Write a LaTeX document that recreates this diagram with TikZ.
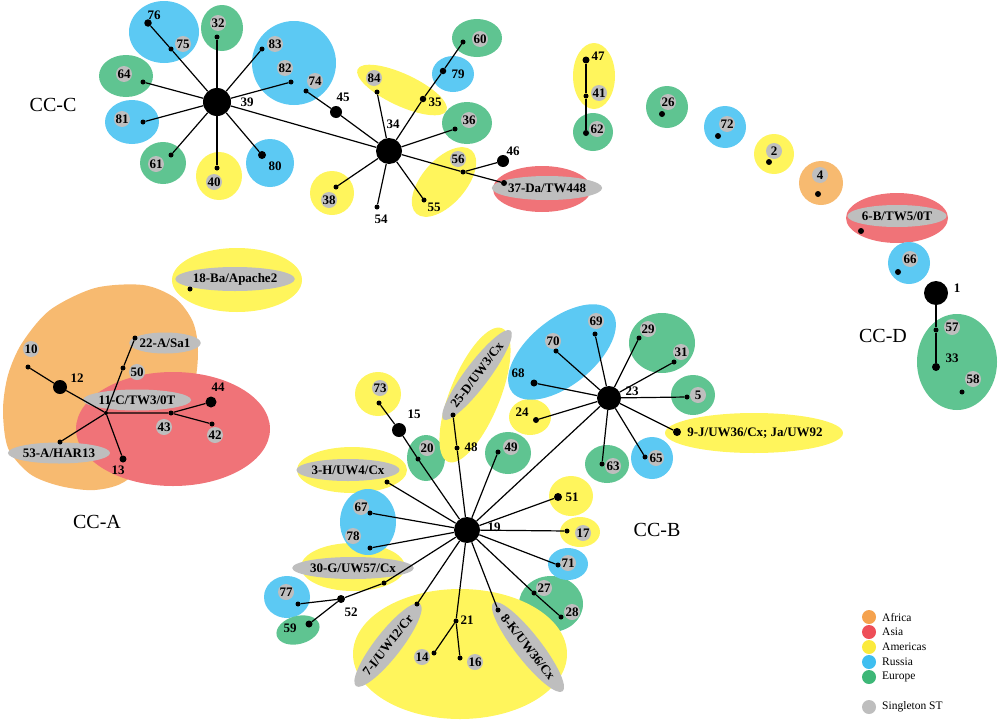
\documentclass[tikz,border=0pt]{standalone}
\usepackage{fontspec}
\setmainfont{Liberation Serif}
\usetikzlibrary{shapes.geometric}
\definecolor{cOr}{HTML}{F7BA70}
\definecolor{cRe}{HTML}{F07378}
\definecolor{cYe}{HTML}{FFF55C}
\definecolor{cBl}{HTML}{5CC9F3}
\definecolor{cGn}{HTML}{5FC491}
\definecolor{cGr}{HTML}{BEBEBE}
\definecolor{kOr}{HTML}{F5A24E}
\definecolor{kRe}{HTML}{EE4E58}
\definecolor{kYe}{HTML}{FBEA3C}
\definecolor{kBl}{HTML}{3FBEF0}
\definecolor{kGn}{HTML}{3DB777}
\newcommand\mylabfont{\fontsize{13}{15}\bfseries\selectfont}
\tikzset{
  conn/.style={line width=1.2pt, black},
  sdot/.style={circle, fill=black, inner sep=0pt, minimum size=5pt},
  mdot/.style={circle, fill=black, inner sep=0pt, minimum size=7.5pt},
  bdot/.style={circle, fill=black, inner sep=0pt, minimum size=13pt},
  hubn/.style={circle, fill=black, inner sep=0pt, minimum size=26pt},
  glab/.style={circle, fill=cGr, inner sep=0pt, minimum size=16pt, font=\mylabfont},
  tlab/.style={inner sep=0pt, font=\mylabfont},
  elab/.style={ellipse, fill=cGr, inner sep=0pt, font=\mylabfont},
  cclab/.style={inner sep=0pt, font=\fontsize{20}{24}\selectfont},
  leg/.style={inner sep=0pt, anchor=west, font=\fontsize{11.5}{13}\selectfont},
}
\begin{document}
\begin{tikzpicture}[x=1pt,y=-1pt]
\useasboundingbox (0,0) rectangle (1000,720);
% ---------- regions ----------
% CC-A
\fill[cOr] plot[smooth cycle] coordinates {(143,285) (175,298) (193,322) (198,352) (192,390) (160,440) (127,480) (95,490) (60,486) (30,474) (8,448) (3,410) (8,375) (22,343) (50,310) (95,288)};
\fill[cRe] (173,429) ellipse [x radius=97pt, y radius=57pt];
\fill[cYe] (237,280) ellipse [x radius=65pt, y radius=32pt];
% CC-C
\fill[cBl] (164,32) ellipse [x radius=35pt, y radius=31pt];
\fill[cGn] (222,28) ellipse [x radius=21pt, y radius=23pt];
\fill[cGn] (126,76) ellipse [x radius=27pt, y radius=21pt];
\fill[cBl] (132,122) ellipse [x radius=27pt, y radius=22pt];
\fill[cGn] (163,163) ellipse [x radius=23pt, y radius=21pt];
\fill[cYe] (219,176) ellipse [x radius=23pt, y radius=24pt];
\fill[cBl] (270,163) ellipse [x radius=24pt, y radius=24pt];
\fill[cBl] (294,63) ellipse [x radius=42pt, y radius=42pt];
\fill[cYe, rotate around={-25:(402,90)}] (402,90) ellipse [x radius=49pt, y radius=16pt];
\fill[cBl] (453,74) ellipse [x radius=21pt, y radius=18pt];
\fill[cGn] (477,38) ellipse [x radius=25pt, y radius=19pt];
\fill[cGn] (467,123) ellipse [x radius=25pt, y radius=21pt];
\fill[cYe, rotate around={49:(444,182)}] (444,182) ellipse [x radius=42pt, y radius=22pt];
\fill[cRe] (542,189) ellipse [x radius=49pt, y radius=23pt];
\fill[cYe] (332,193) ellipse [x radius=22pt, y radius=22pt];
% 47-41-62
\fill[cYe] (594,76) ellipse [x radius=21pt, y radius=33pt];
\fill[cGn] (593,132) ellipse [x radius=20pt, y radius=19pt];
% singletons and CC-D
\fill[cGn] (667,107) ellipse [x radius=21pt, y radius=21pt];
\fill[cBl] (725,127) ellipse [x radius=21pt, y radius=21pt];
\fill[cYe] (774,154) ellipse [x radius=20pt, y radius=20pt];
\fill[cOr] (821,183) ellipse [x radius=22pt, y radius=22pt];
\fill[cRe] (897,218) ellipse [x radius=51pt, y radius=25pt];
\fill[cBl] (909,263) ellipse [x radius=21pt, y radius=21pt];
\fill[cGn] (957,362) ellipse [x radius=40pt, y radius=48pt];
% CC-B
\fill[cGn] (551,604) ellipse [x radius=32pt, y radius=28pt];
\fill[cYe] (460,654) ellipse [x radius=107pt, y radius=65pt];
\fill[cYe] (352,470) ellipse [x radius=55pt, y radius=23pt];
\fill[cYe] (353,567) ellipse [x radius=52pt, y radius=24pt];
\fill[cBl] (368,522) ellipse [x radius=28pt, y radius=33pt];
\fill[cBl] (287,597) ellipse [x radius=23pt, y radius=21pt];
\fill[cGn, rotate around={15:(298,630)}] (298,630) ellipse [x radius=22pt, y radius=14pt];
\fill[cYe] (378,394) ellipse [x radius=23pt, y radius=22pt];
\fill[cGn] (426,458) ellipse [x radius=19pt, y radius=23pt];
\fill[cYe, rotate around={68:(475,395)}] (475,395) ellipse [x radius=72pt, y radius=25pt];
\fill[cGn] (508,453) ellipse [x radius=23pt, y radius=21pt];
\fill[cYe] (530,417) ellipse [x radius=21pt, y radius=18pt];
\fill[cBl, rotate around={39:(562,352)}] (562,352) ellipse [x radius=64pt, y radius=33pt];
\fill[cGn] (662,343) ellipse [x radius=33pt, y radius=30pt];
\fill[cGn] (693,395) ellipse [x radius=22pt, y radius=20pt];
\fill[cYe] (754,433) ellipse [x radius=89pt, y radius=20pt];
\fill[cGn] (607,464) ellipse [x radius=22pt, y radius=19pt];
\fill[cBl] (652,458) ellipse [x radius=21pt, y radius=21pt];
\fill[cYe] (571,496) ellipse [x radius=22pt, y radius=20pt];
\fill[cYe] (580,532) ellipse [x radius=20pt, y radius=15pt];
\fill[cBl] (568,564) ellipse [x radius=20pt, y radius=16pt];

% ---------- grey labels (singleton STs) ----------
% CC-C
\node[glab] (l75) at (183,44) {75};
\node[glab] (l32) at (218,23) {32};
\node[glab] (l64) at (124,74) {64};
\node[glab] (l81) at (122,119) {81};
\node[glab] (l61) at (156,164) {61};
\node[glab] (l40) at (214,182) {40};
\node[glab] (l83) at (275,44) {83};
\node[glab] (l82) at (285,68) {82};
\node[glab] (l74) at (315,81) {74};
\node[glab] (l84) at (374,78) {84};
\node[glab] (l60) at (480,39) {60};
\node[glab] (l36) at (469,120) {36};
\node[glab] (l56) at (458,159) {56};
\node[glab] (l38) at (329,200) {38};
\node[elab, minimum width=88pt, minimum height=24pt] (l37) at (547,188) {37-Da/TW448};
\node[glab] (l41) at (599,93) {41};
\node[glab] (l62) at (597,129) {62};
% singletons and CC-D
\node[glab] (l26) at (668,102) {26};
\node[glab] (l72) at (727,124) {72};
\node[glab] (l2) at (774,151) {2};
\node[glab] (l4) at (820,175) {4};
\node[elab, minimum width=86pt, minimum height=22pt] (l6) at (897,216) {6-B/TW5/0T};
\node[glab] (l66) at (910,259) {66};
\node[glab] (l57) at (952,327) {57};
\node[glab] (l58) at (973,379) {58};
% CC-A
\node[elab, minimum width=94pt, minimum height=24pt] (l18) at (235,279) {18-Ba/Apache2};
\node[elab, minimum width=88pt, minimum height=21pt] (l11) at (137,400) {11-C/TW3/0T};
\node[glab] (l10) at (31,349) {10};
\node[glab] (l50) at (137,372) {50};
\node[elab, minimum width=58pt, minimum height=21pt] (l22) at (165,343) {22-A/Sa1};
\node[glab] (l43) at (164,427) {43};
\node[glab] (l42) at (215,435) {42};
\node[elab, minimum width=82pt, minimum height=21pt] (l53) at (59,453) {53-A/HAR13};
% CC-B
\node[glab] (l73) at (380,388) {73};
\node[glab] (l20) at (427,448) {20};
\node[elab, rotate=53, minimum width=90pt, minimum height=24pt] (l25) at (477,375) {25-D/UW3/Cx};
\node[glab] (l49) at (511,447) {49};
\node[glab] (l70) at (553,341) {70};
\node[glab] (l69) at (596,321) {69};
\node[glab] (l29) at (648,329) {29};
\node[glab] (l31) at (681,352) {31};
\node[glab] (l5) at (698,395) {5};
\node[glab] (l63) at (613,466) {63};
\node[glab] (l65) at (656,458) {65};
\node[elab, minimum width=92pt, minimum height=22pt] (l3) at (348,470) {3-H/UW4/Cx};
\node[glab] (l67) at (361,507) {67};
\node[glab] (l78) at (353,536) {78};
\node[elab, minimum width=94pt, minimum height=22pt] (l30) at (353,568) {30-G/UW57/Cx};
\node[glab] (l77) at (286,592) {77};
\node[elab, rotate=52, minimum width=88pt, minimum height=26pt] (l7) at (388,645) {7-I/UW12/Cr};
\node[elab, rotate=-52, minimum width=90pt, minimum height=26pt] (l8) at (528,647) {8-K/UW36/Cx};
\node[glab] (l14) at (422,657) {14};
\node[glab] (l16) at (475,662) {16};
\node[glab] (l27) at (544,588) {27};
\node[glab] (l28) at (572,612) {28};
\node[glab] (l71) at (568,563) {71};
\node[glab] (l17) at (583,533) {17};

% ---------- nodes (dots) ----------
% CC-C
\node[hubn, minimum size=28pt] (n39) at (217,102) {};
\node[sdot] (n75) at (171,49) {};
\node[mdot] (n76) at (148,23) {};
\node[sdot] (n32) at (217,37) {};
\node[sdot] (n64) at (143,82) {};
\node[sdot] (n81) at (143,122) {};
\node[sdot] (n61) at (171,155) {};
\node[sdot] (n40) at (217,168) {};
\node[mdot, minimum size=8pt] (n80) at (262,155) {};
\node[sdot] (n83) at (262,49) {};
\node[sdot] (n82) at (291,82) {};
\node[sdot] (n74) at (306,91) {};
\node[bdot, minimum size=12pt] (n45) at (336,112) {};
\node[hubn] (n34) at (389,151) {};
\node[sdot] (n84) at (377,92) {};
\node[mdot, minimum size=6.5pt] (n35) at (423,99) {};
\node[mdot, minimum size=6.5pt] (n79) at (443,71) {};
\node[sdot] (n60) at (463,42) {};
\node[sdot] (n36) at (455,129) {};
\node[sdot] (n56) at (463,172) {};
\node[bdot, minimum size=12pt] (n46) at (503,161) {};
\node[mdot, minimum size=6pt] (n37) at (504,183) {};
\node[sdot] (n55) at (424,200) {};
\node[sdot] (n54) at (377,207) {};
\node[sdot] (n38) at (336,187) {};
\node[mdot, minimum size=7pt] (n47) at (586,60) {};
\node[sdot] (n41) at (586,96) {};
\node[mdot, minimum size=6pt] (n62) at (586,133) {};
% singletons and CC-D
\node[mdot, minimum size=6pt] (n26) at (662,114) {};
\node[mdot, minimum size=6pt] (n72) at (718,136) {};
\node[mdot, minimum size=6pt] (n2) at (769,162) {};
\node[mdot, minimum size=6pt] (n4) at (818,194) {};
\node[mdot, minimum size=6pt] (n6) at (861,231) {};
\node[mdot, minimum size=6pt] (n66) at (898,272) {};
\node[hubn, minimum size=24pt] (n1) at (936,293) {};
\node[sdot] (n57) at (936,330) {};
\node[mdot, minimum size=8pt] (n33) at (936,367) {};
\node[sdot] (n58) at (962,392) {};
% CC-A
\node[sdot] (n18) at (190,289) {};
\node[sdot, minimum size=4pt] (n11) at (106,413) {};
\node[bdot, minimum size=14pt] (n12) at (60,387) {};
\node[sdot] (n10) at (28,367) {};
\node[sdot] (n50) at (123,368) {};
\node[sdot] (n22) at (135,338) {};
\node[sdot] (n43) at (171,413) {};
\node[bdot, minimum size=11pt] (n44) at (211,402) {};
\node[sdot] (n42) at (212,424) {};
\node[sdot] (n53) at (60,442) {};
\node[mdot, minimum size=7pt] (n13) at (123,459) {};
% CC-B
\node[hubn] (n19) at (467,530) {};
\node[hubn, minimum size=24pt] (n23) at (609,398) {};
\node[mdot, minimum size=7pt] (n68) at (534,383) {};
\node[sdot] (n70) at (556,351) {};
\node[sdot] (n69) at (595,334) {};
\node[sdot] (n29) at (639,338) {};
\node[sdot] (n31) at (674,362) {};
\node[sdot] (n5) at (687,397) {};
\node[mdot, minimum size=8pt] (n9) at (677,432) {};
\node[sdot] (n65) at (645,457) {};
\node[sdot] (n63) at (602,464) {};
\node[mdot, minimum size=6pt] (n24) at (536,420) {};
\node[sdot] (n49) at (498,452) {};
\node[sdot] (n48) at (457,448) {};
\node[sdot] (n25) at (453,415) {};
\node[sdot] (n20) at (418,459) {};
\node[bdot, minimum size=14pt] (n15) at (399,430) {};
\node[sdot] (n73) at (379,403) {};
\node[sdot] (n3) at (387,482) {};
\node[sdot] (n67) at (370,513) {};
\node[sdot] (n78) at (370,548) {};
\node[sdot] (n30) at (384,583) {};
\node[mdot, minimum size=8pt] (n52) at (341,599) {};
\node[sdot] (n77) at (298,604) {};
\node[mdot, minimum size=7pt] (n59) at (309,624) {};
\node[sdot] (n7) at (417,604) {};
\node[sdot] (n21) at (456,621) {};
\node[sdot] (n14) at (434,653) {};
\node[sdot] (n16) at (460,658) {};
\node[sdot] (n8) at (498,610) {};
\node[sdot] (n27) at (534,593) {};
\node[sdot] (n28) at (561,617) {};
\node[sdot] (n71) at (558,565) {};
\node[sdot] (n17) at (567,531) {};
\node[mdot, minimum size=8pt] (n51) at (558,497) {};

% ---------- connectors ----------
\begin{scope}[conn]
% CC-C
\draw (n39) -- (n75) -- (n76);
\draw (n39) -- (n32);
\draw (n39) -- (n83);
\draw (n39) -- (n82);
\draw (n39) -- (n34);
\draw (n39) -- (n80);
\draw (n39) -- (n40);
\draw (n39) -- (n61);
\draw (n39) -- (n81);
\draw (n39) -- (n64);
\draw (n74) -- (n45) -- (n34);
\draw (n34) -- (n84);
\draw (n34) -- (n35) -- (n79) -- (n60);
\draw (n34) -- (n36);
\draw (n34) -- (n56) -- (n37);
\draw (n56) -- (n46);
\draw (n34) -- (n55);
\draw (n34) -- (n54);
\draw (n34) -- (n38);
\draw (n47) -- (n41) -- (n62);
% CC-D
\draw (n1) -- (n57) -- (n33);
% CC-A
\draw (n11) -- (n12) -- (n10);
\draw (n11) -- (n50) -- (n22);
\draw (n11) -- (n53);
\draw (n11) -- (n13);
\draw (n11) -- (n43) -- (n44);
\draw (n43) -- (n42);
% CC-B
\draw (n23) -- (n68);
\draw (n23) -- (n70);
\draw (n23) -- (n69);
\draw (n23) -- (n29);
\draw (n23) -- (n31);
\draw (n23) -- (n5);
\draw (n23) -- (n9);
\draw (n23) -- (n65);
\draw (n23) -- (n63);
\draw (n23) -- (n24);
\draw (n19) -- (n23);
\draw (n19) -- (n49);
\draw (n19) -- (n48) -- (n25);
\draw (n19) -- (n20) -- (n15) -- (n73);
\draw (n19) -- (n3);
\draw (n19) -- (n67);
\draw (n19) -- (n78);
\draw (n19) -- (n30) -- (n52) -- (n77);
\draw (n52) -- (n59);
\draw (n19) -- (n7);
\draw (n19) -- (n21) -- (n14);
\draw (n21) -- (n16);
\draw (n19) -- (n8);
\draw (n19) -- (n27) -- (n28);
\draw (n19) -- (n71);
\draw (n19) -- (n17);
\draw (n19) -- (n51);
\end{scope}

% ---------- plain text labels ----------
\node[tlab] (t39) at (247,102) {39};
\node[tlab] (t76) at (154,15) {76};
\node[tlab] (t80) at (275,166) {80};
\node[tlab] (t45) at (343,97) {45};
\node[tlab] (t34) at (393,124) {34};
\node[tlab] (t35) at (435,102) {35};
\node[tlab] (t79) at (458,74) {79};
\node[tlab] (t46) at (513,151) {46};
\node[tlab] (t55) at (434,207) {55};
\node[tlab] (t54) at (381,219) {54};
\node[tlab] (t47) at (598,56) {47};
\node[tlab] (t1) at (957,288) {1};
\node[tlab] (t33) at (952,358) {33};
\node[tlab] (t12) at (77,378) {12};
\node[tlab] (t44) at (218,387) {44};
\node[tlab] (t13) at (118,470) {13};
\node[tlab] (t15) at (414,414) {15};
\node[tlab] (t48) at (471,447) {48};
\node[tlab] (t24) at (522,412) {24};
\node[tlab] (t68) at (518,373) {68};
\node[tlab] (t23) at (632,391) {23};
\node[tlab] (t9) at (755,433) {9-J/UW36/Cx; Ja/UW92};
\node[tlab] (t19) at (494,527) {19};
\node[tlab] (t51) at (572,497) {51};
\node[tlab] (t21) at (467,620) {21};
\node[tlab] (t52) at (351,612) {52};
\node[tlab] (t59) at (290,628) {59};

% ---------- complex labels ----------
\node[cclab] (ccC) at (53,105) {CC-C};
\node[cclab] (ccA) at (97,522) {CC-A};
\node[cclab] (ccB) at (657,530) {CC-B};
\node[cclab] (ccD) at (883,336) {CC-D};

% ---------- legend ----------
\fill[kOr] (869,617) circle [radius=7pt];
\fill[kRe] (869,632) circle [radius=7pt];
\fill[kYe] (869,647) circle [radius=7pt];
\fill[kBl] (869,662) circle [radius=7pt];
\fill[kGn] (869,677) circle [radius=7pt];
\fill[cGr] (869,707) circle [radius=7pt];
\node[leg] (k1) at (882,617) {Africa};
\node[leg] (k2) at (882,632) {Asia};
\node[leg] (k3) at (882,647) {Americas};
\node[leg] (k4) at (882,662) {Russia};
\node[leg] (k5) at (882,677) {Europe};
\node[leg] (k6) at (882,707) {Singleton ST};
\end{tikzpicture}
\end{document}
